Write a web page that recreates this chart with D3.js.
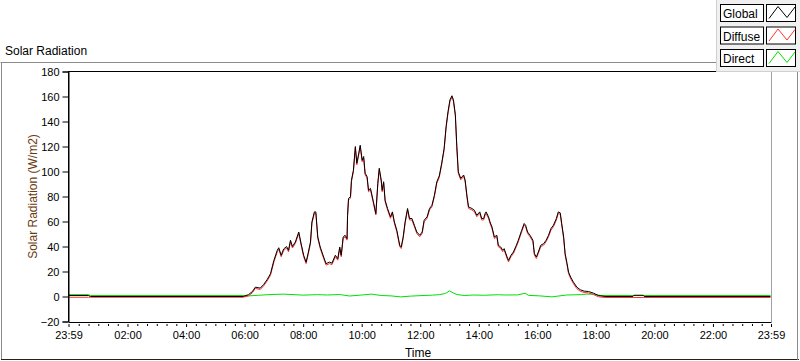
<!DOCTYPE html>
<html><head><meta charset="utf-8">
<script src="https://cdn.jsdelivr.net/npm/d3@7"></script>
<style>
html,body{margin:0;padding:0;background:#fff;}
svg{display:block;font-family:"Liberation Sans",Arial,sans-serif;}
</style></head>
<body>
<script>
// ---- data (minutes from 00:00; -1 = 23:59 previous day) ----
const timeMin = [-1,40,44,357,368,376,382,392,399,406,413,420,427,430,435,440,446,450,454,458,464,471,476,481,486,490,495,498,503,506,510,515,522,527,534,539,546,551,555,558,562,566,570,571,573,577,579,583,587,590,594,597,601,604,607,611,614,618,624,629,633,636,640,642,645,648,653,659,663,667,672,678,681,685,689,694,698,703,708,713,719,724,728,734,739,744,749,754,759,764,769,773,777,781,785,788,792,795,798,803,809,812,816,819,826,831,836,842,846,850,853,855,860,863,867,872,877,880,885,889,892,898,901,906,911,917,921,928,933,936,940,945,951,954,958,962,967,973,978,983,988,993,999,1003,1007,1010,1014,1017,1021,1024,1029,1034,1041,1048,1056,1065,1075,1085,1099,1156,1158,1177,1179,1439];
const globalW = [0.8,0.8,0,0,1.5,4,7.5,6.7,9.6,13.4,18.2,28.9,37,39,33,38,40,37,45,40,43.6,51.6,42,33,27.5,34.3,43.6,59.7,67.7,67.7,47.6,39.6,31.6,26.3,27.5,26.7,33,30.3,39.6,33,47.6,49,46.3,65,78.5,79.8,93,101,120,106.6,114.6,121,109,112,98.6,96,85,86.5,75.8,66.4,90.5,102.6,93.2,85,91.8,77,70.4,63.7,67.7,59.7,53,41,39.6,47.6,59.7,70.4,62.4,62.4,57,51.6,49,51.6,61,63.7,70.4,73,81,91.8,96.4,106.6,118.6,136,148,157.4,160.6,157.4,145.4,120,99.8,94.5,97.2,93.2,79.8,71.7,70.4,69,65,67.7,62.4,62.4,66.4,67.7,63.7,59.7,55.7,47.6,49,41,39.6,37,38.3,31.6,28.9,33,35.6,41,45,53,58.4,57,51.6,49,45,34.3,31.6,35.6,41,42.3,45,49,54.4,57,62.4,67.7,66.9,58.4,47.6,34.3,26.3,19.5,15,11.5,7.5,5.4,4.3,4,2.7,0.8,0,0,1,1,0,0];
const diffuseW = [-0.6,-0.6,-0.6,-0.6,0.5,3,6.5,5.6,8.5,12.3,17,27.6,35.8,37.8,31.8,36.8,38.8,35.8,43.8,38.8,42.4,50.4,40.8,31.8,26.3,33.1,42.4,58.5,66.5,66.5,46.4,38.4,30.4,25.1,26.3,25.5,31.8,29.1,38.4,31.8,46.4,47.8,45.1,63.8,77.3,78.6,91.8,99.8,118.8,105.4,113.4,119.8,107.8,110.8,97.4,94.8,83.8,85.3,74.6,65.2,89.3,101.4,92,83.8,90.6,75.8,69.2,62.5,66.5,58.5,51.8,39.8,38.4,46.4,58.5,69.2,61.2,61.2,55.8,50.4,47.8,50.4,59.8,62.5,69.2,71.8,79.8,90.6,95.2,105.4,117.4,134.8,146.8,156.2,159.4,156.2,144.2,118.8,98.6,93.3,96,92,78.6,70.5,69.2,67.8,63.8,66.5,61.2,61.2,65.2,66.5,62.5,58.5,54.5,46.4,47.8,39.8,38.4,35.8,37.1,30.4,27.7,31.8,34.4,39.8,43.8,51.8,57.2,55.8,50.4,47.8,43.8,33.1,30.4,34.4,39.8,41.1,43.8,47.8,53.2,55.8,61.2,66.5,65.7,57.2,46.4,33.1,25.1,18.3,13.8,10.3,6.3,4.2,3.2,2.9,1.6,-0.2,-0.8,-0.8,-0.8,-0.8,-0.8,-0.8];
const directTime = [-1,40,44,357,368,410,440,480,510,530,555,575,600,620,640,660,680,700,715,745,760,772,780,787,795,810,830,850,880,895,920,935,942,965,990,1000,1020,1050,1060,1075,1090,1439];
const directW = [1.5,1.5,0.8,0.8,0.5,1.5,1.9,1.1,1.5,1.2,1.6,0.4,1.2,1.9,0.8,0.5,-0.3,0.3,0.6,1.1,1.5,2.5,4.5,3,1.6,0.8,1.2,1,1.4,1.2,1.3,2.6,0.9,0.5,-0.3,0.2,1.2,1.5,1.9,1.9,0.8,0.8];
const yTicks = [-20,0,20,40,60,80,100,120,140,160,180];
const xTickMin = [-1,120,240,360,480,600,720,840,960,1080,1200,1320,1439];
const xTickLabels = ["23:59","02:00","04:00","06:00","08:00","10:00","12:00","14:00","16:00","18:00","20:00","22:00","23:59"];
const seriesNames = ["Global","Diffuse","Direct"];
const seriesColors = ["#000000","#ff3030","#00e000"];

const W = 800, H = 361;
const svg = d3.select("body").append("svg").attr("width", W).attr("height", H);
svg.append("rect").attr("width", W).attr("height", H).attr("fill", "#fff");

// outer frame
svg.append("line").attr("x1",0.5).attr("x2",718).attr("y1",62.5).attr("y2",62.5).attr("stroke","#8a8a8a");
svg.append("line").attr("x1",1.5).attr("x2",1.5).attr("y1",62.5).attr("y2",360).attr("stroke","#8a8a8a");
svg.append("line").attr("x1",1).attr("x2",799).attr("y1",359.5).attr("y2",359.5).attr("stroke","#222");
svg.append("line").attr("x1",797.5).attr("x2",797.5).attr("y1",70).attr("y2",360).attr("stroke","#8a8a8a");

svg.append("text").attr("x",5).attr("y",55).attr("font-size",12).attr("fill","#000").text("Solar Radiation");

const x = d3.scaleLinear().domain([-1,1439]).range([68.5,771]);
const y = d3.scaleLinear().domain([-20,180]).range([321.5,71.5]);

// plot area
svg.append("rect").attr("x",68.5).attr("y",71.5).attr("width",702.5).attr("height",250).attr("fill","#fff");
svg.append("defs").append("clipPath").attr("id","clip").append("rect")
  .attr("x",69).attr("y",72).attr("width",701.5).attr("height",249);

const line = (xs, ys) => d3.line().x((d,i)=>x(xs[i])).y((d,i)=>y(ys[i]));
const g = svg.append("g").attr("clip-path","url(#clip)");
g.append("path").datum(directW).attr("d", line(directTime, directW)).attr("fill","none").attr("stroke",seriesColors[2]).attr("stroke-width",1);
g.append("path").datum(diffuseW).attr("d", line(timeMin, diffuseW)).attr("fill","none").attr("stroke",seriesColors[1]).attr("stroke-width",1);
g.append("path").datum(globalW).attr("d", line(timeMin, globalW)).attr("fill","none").attr("stroke",seriesColors[0]).attr("stroke-width",1);

// plot borders
svg.append("line").attr("x1",68.5).attr("x2",68.5).attr("y1",71).attr("y2",322).attr("stroke","#000");
svg.append("line").attr("x1",68).attr("x2",771).attr("y1",71.5).attr("y2",71.5).attr("stroke","#000");
svg.append("line").attr("x1",771.5).attr("x2",771.5).attr("y1",71).attr("y2",322).attr("stroke","#a0a0a0");

// y axis
const yAxis = svg.append("g").attr("transform","translate(68.5,0)")
  .call(d3.axisLeft(y).tickValues(yTicks).tickSize(6).tickPadding(3));
yAxis.select(".domain").attr("stroke","#000");
yAxis.selectAll("text").attr("font-size",11).attr("fill","#000").attr("font-family","Liberation Sans, Arial, sans-serif");

// x axis
const xAxis = svg.append("g").attr("transform","translate(0,322)")
  .call(d3.axisBottom(x).tickValues(xTickMin).tickFormat((d,i)=>xTickLabels[i]).tickSizeInner(5).tickSizeOuter(0).tickPadding(4));
xAxis.select(".domain").attr("stroke","#000");
xAxis.selectAll("text").attr("font-size",11).attr("fill","#000").attr("font-family","Liberation Sans, Arial, sans-serif");
xAxis.selectAll(".tick line").attr("y1",2);
const minor = d3.range(20,1439,20).filter(m => m % 120 !== 0);
svg.append("g").attr("transform","translate(0,322)")
  .call(d3.axisBottom(x).tickValues(minor).tickFormat("").tickSizeInner(4).tickSizeOuter(0))
  .call(a => a.select(".domain").remove())
  .call(a => a.selectAll(".tick line").attr("y1",2));

svg.append("text").attr("x",418).attr("y",357).attr("text-anchor","middle").attr("font-size",12).text("Time");
svg.append("text").attr("transform","translate(37,196.5) rotate(-90)").attr("text-anchor","middle")
  .attr("font-size",12).attr("fill","#6b3a10").text("Solar Radiation (W/m2)");

// legend
const lg = svg.append("g");
lg.append("rect").attr("x",716).attr("y",0).attr("width",84).attr("height",72).attr("fill","#f0f0f0");
lg.append("line").attr("x1",716.5).attr("x2",716.5).attr("y1",0).attr("y2",72).attr("stroke","#d0d0d0");
lg.append("line").attr("x1",716).attr("x2",800).attr("y1",71.5).attr("y2",71.5).attr("stroke","#d0d0d0");
seriesNames.forEach((name,i) => {
  const top = 4.5 + i*22.5;
  lg.append("rect").attr("x",720.5).attr("y",top).attr("width",43).attr("height",17).attr("fill","#fff").attr("stroke","#000");
  lg.append("rect").attr("x",766.5).attr("y",top).attr("width",29).attr("height",17).attr("fill","#fff").attr("stroke","#000");
  lg.append("text").attr("x",723).attr("y",top+13.5).attr("font-size",12).attr("fill","#000").text(name);
  lg.append("polyline").attr("points",`769,${top+14} 778,${top+2} 787,${top+13} 795,${top+2.5}`)
    .attr("fill","none").attr("stroke",seriesColors[i]).attr("stroke-width",1);
});
</script>
</body></html>
